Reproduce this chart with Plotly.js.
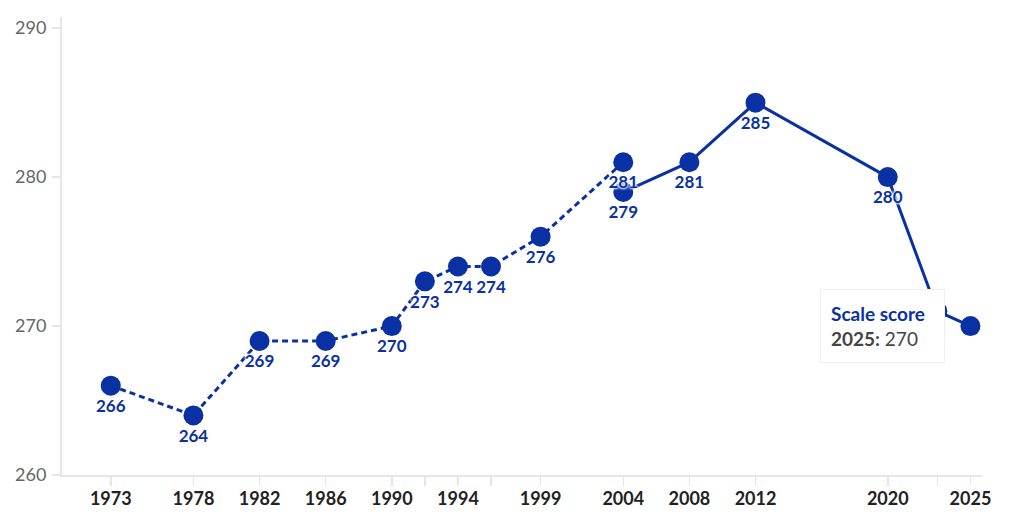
<!DOCTYPE html>
<html>
<head>
<meta charset="utf-8">
<script src="https://cdn.plot.ly/plotly-3.0.1.min.js"></script>
<style>html,body{margin:0;padding:0;background:#fff}#chart{width:1024px;height:522px}</style>
</head>
<body>
<div id="chart"></div>
<script>
// Data
const dashedYears = [1973, 1978, 1982, 1986, 1990, 1992, 1994, 1996, 1999, 2004];
const dashedScores = [266, 264, 269, 269, 270, 273, 274, 274, 276, 281];
const solidYears = [2004, 2008, 2012, 2020, 2023, 2025];
const solidScores = [279, 281, 285, 280, 271, 270];
const solidLabels = ['279', '281', '285', '280', '', ''];   // 2023/2025 labels hidden by the tooltip
const tickYears = [1973, 1978, 1982, 1986, 1990, 1992, 1994, 1996, 1999, 2004, 2008, 2012, 2020, 2023, 2025];
const tickLabels = ['1973', '1978', '1982', '1986', '1990', '', '1994', '', '1999', '2004', '2008', '2012', '2020', '', '2025'];
const yTicks = [260, 270, 280, 290];
const tooltipTitle = 'Scale score';
const tooltipYear = 2025;
const tooltipValue = 270;

const blue = '#0a31a3';
const halo = 'white 0 0 2px, white 0 0 2px, white 0 0 3px, white 0 0 3px';
const font = 'Lato, "Source Sans Pro", "Open Sans", sans-serif';

function series(xs, ys, labels, dash) {
  return {
    x: xs, y: ys, type: 'scatter', mode: 'lines+markers+text',
    line: {color: blue, width: 3, dash: dash},
    marker: {color: blue, size: 20},
    text: labels, textposition: 'bottom center',
    textfont: {family: font, size: 17, color: blue, weight: 700, shadow: halo},
    hoverinfo: 'skip', cliponaxis: false
  };
}

const data = [
  series(solidYears, solidScores, solidLabels, 'solid'),
  series(dashedYears, dashedScores, dashedScores.map(String), '6px,4px')
];

const layout = {
  width: 1024, height: 522,
  margin: {l: 62, r: 42, t: 17, b: 47},
  paper_bgcolor: '#fff', plot_bgcolor: '#fff',
  showlegend: false,
  font: {family: font},
  xaxis: {
    range: [1970.05, 2025.7], tickmode: 'array', tickvals: tickYears,
    ticktext: tickLabels.map(t => t ? '<b>' + t + '</b>' : ''),
    showgrid: false, zeroline: false,
    showline: true, linecolor: '#e6e6e6', linewidth: 2,
    ticks: 'outside', ticklen: 9, tickcolor: '#e6e6e6', tickwidth: 1.5,
    ticklabelstandoff: -3,
    tickfont: {family: font, size: 18, color: '#222'}
  },
  yaxis: {
    range: [260, 290.75], tickmode: 'array', tickvals: yTicks,
    showgrid: false, zeroline: false,
    showline: true, linecolor: '#e6e6e6', linewidth: 2,
    ticks: 'outside', ticklen: 8, tickcolor: '#e6e6e6', tickwidth: 1.5,
    ticklabelstandoff: 2,
    tickfont: {family: font, size: 18, color: '#666'}
  },
  annotations: [{
    x: tooltipYear, y: tooltipValue, xref: 'x', yref: 'y',
    xanchor: 'right', yanchor: 'middle', xshift: -25,
    showarrow: false, align: 'left',
    text: '<span style="color:' + blue + '"><b>' + tooltipTitle + '</b></span><br><b>' + tooltipYear + ':</b> ' + tooltipValue,
    font: {family: font, size: 19, color: '#444'},
    bgcolor: '#ffffff', bordercolor: '#eeeeee', borderwidth: 1, borderpad: 10,
    width: 103, height: 52
  }]
};

Plotly.newPlot('chart', data, layout, {displayModeBar: false, staticPlot: true});
</script>
</body>
</html>
